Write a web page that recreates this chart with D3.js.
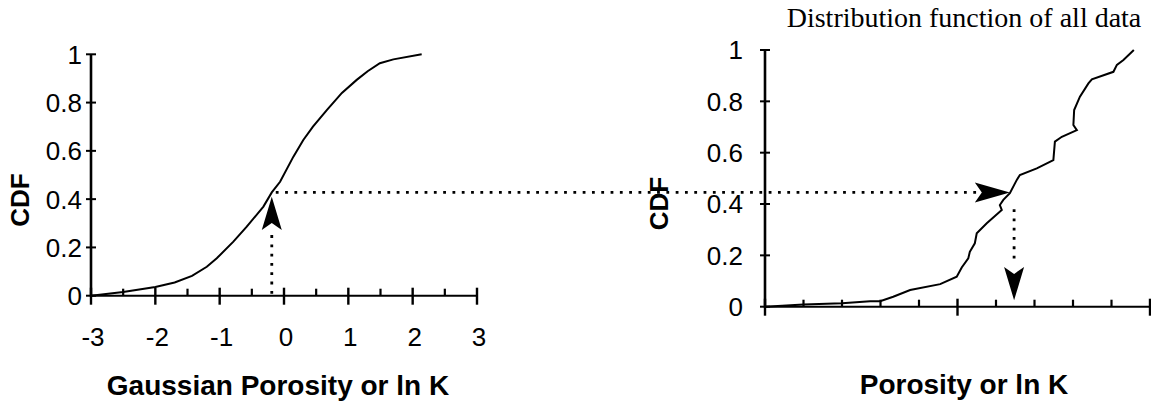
<!DOCTYPE html>
<html><head><meta charset="utf-8">
<script src="https://cdn.jsdelivr.net/npm/d3@7"></script>
<style>body{margin:0;background:#fff}</style></head>
<body>
<svg id="c" width="1151" height="405"></svg>
<script>
// ---- data ----
const leftZ   = [-3, -2.5, -2, -1.7, -1.43, -1.2, -1.045, -0.787, -0.579, -0.32, -0.19, -0.061, 0.146, 0.30, 0.45, 0.665, 0.9, 1.13, 1.3, 1.49, 1.70, 2.14];
const leftCdf = [0, 0.015, 0.036, 0.055, 0.082, 0.12, 0.155, 0.224, 0.286, 0.369, 0.428, 0.472, 0.576, 0.645, 0.70, 0.769, 0.84, 0.894, 0.93, 0.963, 0.979, 1.0];
const rightX   = [0, 1.0, 2.0, 2.73, 2.99, 3.33, 3.77, 4.55, 4.98, 5.11, 5.28, 5.32, 5.45, 5.50, 5.76, 6.15, 6.10, 6.19, 6.36, 6.54, 6.62, 7.06, 7.49, 7.53, 7.71, 8.10, 8.01, 8.03, 8.18, 8.40, 8.49, 9.05, 9.14, 9.31, 9.58];
const rightCdf = [0, 0.009, 0.013, 0.021, 0.021, 0.039, 0.065, 0.088, 0.117, 0.153, 0.188, 0.214, 0.247, 0.286, 0.325, 0.377, 0.396, 0.416, 0.442, 0.494, 0.513, 0.539, 0.571, 0.643, 0.662, 0.688, 0.708, 0.766, 0.818, 0.870, 0.886, 0.915, 0.942, 0.961, 1.0];
const leftXTicks = [-3, -2, -1, 0, 1, 2, 3];
const leftXTickLabels = ["-3", "-2", "-1", "0", "1", "2", "3"];
const leftXMinor = [-2.5, -1.5, -0.5, 0.5, 1.5, 2.5];
const yTicks = [0, 0.2, 0.4, 0.6, 0.8, 1];
const yTickLabels = ["0", "0.2", "0.4", "0.6", "0.8", "1"];
const rightXMajor = [0, 5, 10];
const rightXMinor = [1, 2, 3, 4, 6, 7, 8, 9];
const titleText = "Distribution function of all data";
const leftXLabel = "Gaussian Porosity or ln K";
const rightXLabel = "Porosity or ln K";
const yLabel = "CDF";
// transform illustration
const transferZ = -0.19, upTip = 0.41, upBase = 0.272;
const rArrowTip = 6.36, rArrowBase = 5.45;
const dropX = 6.47, dropTop = 0.38, dropBase = 0.155, dropTip = 0.025;

// ---- scales ----
const xL = d3.scaleLinear().domain([-3, 3]).range([91, 477]);
const yL = d3.scaleLinear().domain([0, 1]).range([295.7, 54.3]);
const xR = d3.scaleLinear().domain([0, 10]).range([765, 1150]);
const yR = d3.scaleLinear().domain([0, 1]).range([306.7, 50]);

const svg = d3.select("#c");
const sans = "'Liberation Sans', Arial, Helvetica, sans-serif";

function axes(xs, ys, xMajor, xMinor, xLabels, labelOffset) {
  const g = svg.append("g");
  const y0 = ys(0), x0 = xs.range()[0], x1 = xs.range()[1];
  g.append("line").attr("x1", x0).attr("x2", x1).attr("y1", y0).attr("y2", y0).attr("stroke", "#000").attr("stroke-width", 2);
  g.append("line").attr("x1", x0).attr("x2", x0).attr("y1", ys(0) + 1).attr("y2", ys(1)).attr("stroke", "#000").attr("stroke-width", 2.6);
  g.selectAll(".yt").data(yTicks).join("line")
    .attr("x1", x0 - 5).attr("x2", x0 + 5).attr("y1", d => ys(d)).attr("y2", d => ys(d))
    .attr("stroke", "#000").attr("stroke-width", 2);
  g.selectAll(".yl").data(yTicks).join("text")
    .attr("x", x0 - labelOffset).attr("y", d => ys(d)).attr("dy", "0.36em")
    .attr("text-anchor", "end").attr("font-family", sans).attr("font-size", 26)
    .text((d, i) => yTickLabels[i]);
  g.selectAll(".xM").data(xMajor).join("line")
    .attr("x1", d => xs(d)).attr("x2", d => xs(d)).attr("y1", y0 - 8).attr("y2", y0 + 9)
    .attr("stroke", "#000").attr("stroke-width", 2.4);
  g.selectAll(".xm").data(xMinor).join("line")
    .attr("x1", d => xs(d)).attr("x2", d => xs(d)).attr("y1", y0 - 7).attr("y2", y0)
    .attr("stroke", "#000").attr("stroke-width", 2.2);
  if (xLabels) {
    g.selectAll(".xl").data(xMajor).join("text")
      .attr("x", d => xs(d) + 2).attr("y", y0 + 50)
      .attr("text-anchor", "middle").attr("font-family", sans).attr("font-size", 26)
      .text((d, i) => xLabels[i]);
  }
}
axes(xL, yL, leftXTicks, leftXMinor, leftXTickLabels, 9);
axes(xR, yR, rightXMajor, rightXMinor, null, 22);

// curves
const lineL = d3.line().x(i => xL(leftZ[i])).y(i => yL(leftCdf[i]));
svg.append("path").attr("d", lineL(d3.range(leftZ.length))).attr("fill", "none").attr("stroke", "#000").attr("stroke-width", 2);
const lineR = d3.line().x(i => xR(rightX[i])).y(i => yR(rightCdf[i]));
svg.append("path").attr("d", lineR(d3.range(rightX.length))).attr("fill", "none").attr("stroke", "#000").attr("stroke-width", 2);

// dotted lines
function dotted(x1, y1, x2, y2) {
  svg.append("line").attr("x1", x1).attr("y1", y1).attr("x2", x2).attr("y2", y2)
    .attr("stroke", "#000").attr("stroke-width", 2.8).attr("stroke-dasharray", "2.8 6.5");
}
function arrowHead(tx, ty, bx, by) {
  const dx = tx - bx, dy = ty - by, len = Math.hypot(dx, dy);
  const ux = dx / len, uy = dy / len, px = -uy, py = ux, w = 10, notch = 7;
  const p = d3.path();
  p.moveTo(tx, ty);
  p.lineTo(bx + px * w, by + py * w);
  p.lineTo(bx + ux * notch, by + uy * notch);
  p.lineTo(bx - px * w, by - py * w);
  p.closePath();
  svg.append("path").attr("d", p.toString()).attr("fill", "#000");
}
const hy = yL(0.428);
// vertical up arrow (left)
dotted(xL(transferZ), yL(0) - 2, xL(transferZ), yL(upBase) + 4);
arrowHead(xL(transferZ), yL(upTip), xL(transferZ), yL(upBase));
// horizontal across
dotted(xL(transferZ) + 4, hy, xR(rArrowBase) + 4, hy);
arrowHead(xR(rArrowTip), hy, xR(rArrowBase), hy);
// down arrow (right)
dotted(xR(dropX), yR(dropTop), xR(dropX), yR(dropBase) - 4);
arrowHead(xR(dropX), yR(dropTip), xR(dropX), yR(dropBase));

// labels
svg.append("text").attr("x", 964).attr("y", 27).attr("text-anchor", "middle")
  .attr("font-family", "'Liberation Serif', 'Times New Roman', serif").attr("font-size", 28).text(titleText);
svg.append("text").attr("x", 278).attr("y", 395).attr("text-anchor", "middle")
  .attr("font-family", sans).attr("font-weight", "bold").attr("font-size", 28).text(leftXLabel);
svg.append("text").attr("x", 964).attr("y", 394).attr("text-anchor", "middle")
  .attr("font-family", sans).attr("font-weight", "bold").attr("font-size", 28).text(rightXLabel);
svg.append("text").attr("transform", "translate(28.5,200) rotate(-90)").attr("text-anchor", "middle")
  .attr("font-family", sans).attr("font-weight", "bold").attr("font-size", 26).text(yLabel);
svg.append("text").attr("transform", "translate(668,203.5) rotate(-90)").attr("text-anchor", "middle")
  .attr("font-family", sans).attr("font-weight", "bold").attr("font-size", 26).text(yLabel);
</script>
</body></html>
